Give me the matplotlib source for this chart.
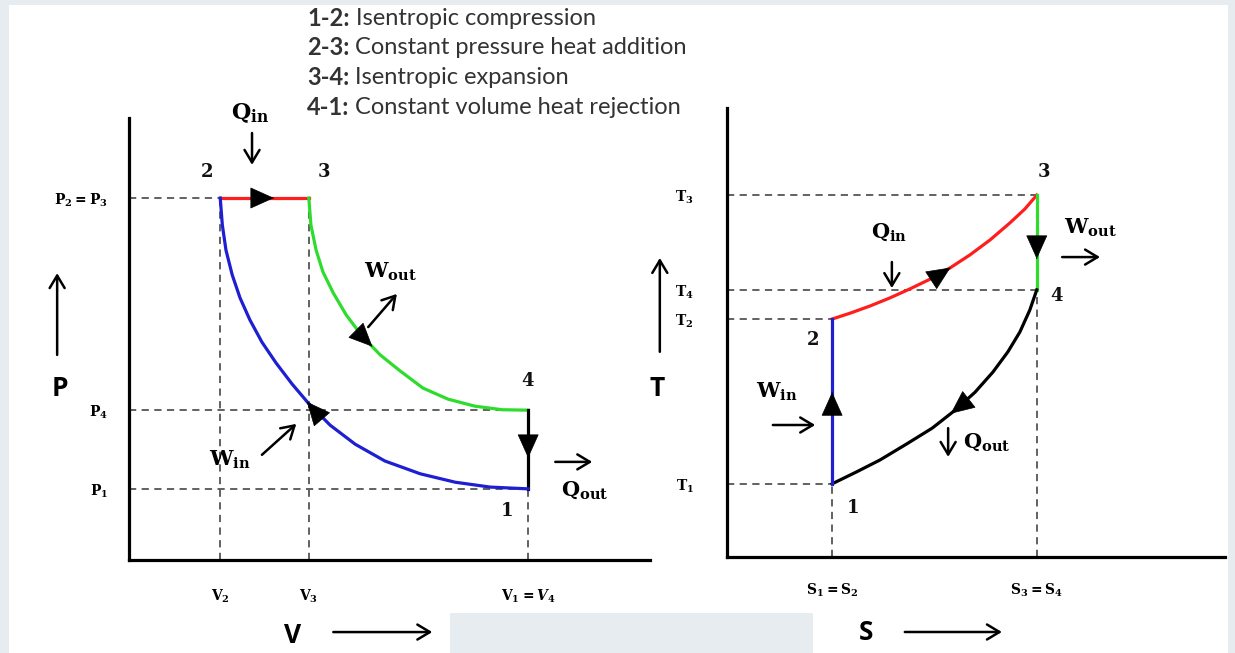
import matplotlib.pyplot as plt
from matplotlib.patches import Rectangle

# ---- P-V diagram values (arbitrary units) ----
V2, V3, V1 = 1.75, 3.45, 7.66
P2, P4, P1 = 8.19, 3.39, 1.61
# 1-2 isentropic compression (from 2 to 1)
comp_V = [1.75, 1.79, 1.86, 1.98, 2.13, 2.32, 2.55, 2.82, 3.13, 3.44, 3.86,
          4.34, 4.91, 5.59, 6.26, 6.93, 7.66]
comp_P = [8.19, 7.58, 7.01, 6.45, 5.93, 5.43, 4.93, 4.46, 3.98, 3.55, 3.05,
          2.62, 2.24, 1.95, 1.76, 1.65, 1.61]
# 3-4 isentropic expansion
exp_V = [3.45, 3.49, 3.59, 3.72, 3.92, 4.17, 4.47, 4.82, 5.20, 5.64, 6.12,
         6.64, 7.16, 7.66]
exp_P = [8.19, 7.58, 7.01, 6.52, 6.04, 5.54, 5.07, 4.64, 4.28, 3.89, 3.64,
         3.48, 3.40, 3.39]
# direction marks on the P-V cycle: x, y, dx, dy
pv_marks = [(2.76, 8.19, 1.0, 0.0), (4.66, 4.84, 0.52, -0.61),
            (3.42, 3.57, -0.40, 0.55), (7.66, 2.33, 0.0, -1.0)]

# ---- T-S diagram values ----
S1, S3 = 2.11, 6.22
T3, T4, T2, T1 = 8.06, 5.95, 5.30, 1.63
# 2-3 constant pressure heat addition
heat_S = [2.11, 2.47, 2.87, 3.27, 3.67, 4.08, 4.48, 4.88, 5.28, 5.68, 5.98, 6.22]
heat_T = [5.30, 5.43, 5.59, 5.77, 5.97, 6.19, 6.44, 6.73, 7.06, 7.44, 7.75, 8.06]
# 4-1 heat rejection
rej_S = [6.22, 6.08, 5.88, 5.64, 5.34, 4.98, 4.58, 4.12, 3.61, 3.07, 2.59, 2.11]
rej_T = [5.95, 5.50, 5.01, 4.57, 4.12, 3.67, 3.27, 2.87, 2.52, 2.16, 1.89, 1.63]
ts_marks = [(6.22, 6.66, 0.0, -1.0), (4.48, 6.44, 0.40, 0.29),
            (2.11, 3.65, 0.0, 1.0), (4.50, 3.20, -0.46, -0.40)]

steps = [("1-2:", " Isentropic compression"),
         ("2-3:", " Constant pressure heat addition"),
         ("3-4:", " Isentropic expansion"),
         ("4-1:", " Constant volume heat rejection")]

plt.rcParams['mathtext.fontset'] = 'custom'
plt.rcParams['mathtext.rm'] = 'DejaVu Serif:bold'
plt.rcParams['mathtext.it'] = 'DejaVu Serif:bold:italic'
plt.rcParams['mathtext.bf'] = 'DejaVu Serif:bold'

RED, GREEN, BLUE, DASH = '#ff1e1e', '#2edc2e', '#1f1fd2', '#555555'
LW = 2.3

fig = plt.figure(figsize=(12.35, 6.53), dpi=100, facecolor='#e7ecf1')
fig.patches.append(Rectangle((9 / 1235, 0), 1219 / 1235, 1 - 5 / 653,
                             transform=fig.transFigure, facecolor='white',
                             edgecolor='none', zorder=-2))
fig.patches.append(Rectangle((450 / 1235, 0), 363 / 1235, 40 / 653,
                             transform=fig.transFigure, facecolor='#e7ecf1',
                             edgecolor='none', zorder=5))

ax = fig.add_axes([0.1045, 0.1424, 0.4219, 0.6769])
ax2 = fig.add_axes([0.5887, 0.1470, 0.4032, 0.6876])

for a in (ax, ax2):
    a.set_xlim(0, 10)
    a.set_ylim(0, 10)
    a.patch.set_alpha(0)
    for s in ('top', 'right'):
        a.spines[s].set_visible(False)
    for s in ('left', 'bottom'):
        a.spines[s].set_linewidth(2.3)
    a.tick_params(length=0)

dash = dict(color=DASH, lw=1.3, ls=(0, (4, 3)), zorder=1)


def mark(a, x, y, dx, dy):
    a.annotate('', xy=(x + dx * 0.02, y + dy * 0.02), xytext=(x, y),
               arrowprops=dict(arrowstyle='-|>,head_length=1.0,head_width=0.45',
                               color='black', lw=0.5, shrinkA=0, shrinkB=0,
                               mutation_scale=16), zorder=4)


def pointer(a, x0, y0, x1, y1):
    a.annotate('', xy=(x1, y1), xytext=(x0, y0), annotation_clip=False,
               arrowprops=dict(arrowstyle='->,head_length=0.5,head_width=0.3',
                               color='black', lw=1.8, mutation_scale=18,
                               shrinkA=0, shrinkB=0))


serif = dict(fontfamily='DejaVu Serif', fontweight='bold', color='#111111')
big = dict(fontsize=19, fontweight='bold', fontfamily='Open Sans', clip_on=False,
           ha='center', va='center')

# ---- P-V ----
ax.plot([0, V2], [P2, P2], **dash)
ax.plot([0, V1], [P4, P4], **dash)
ax.plot([0, V1], [P1, P1], **dash)
ax.plot([V2, V2], [0, P2], **dash)
ax.plot([V3, V3], [0, P2], **dash)
ax.plot([V1, V1], [0, P1], **dash)
ax.plot([V2, V3], [P2, P2], color=RED, lw=LW, zorder=3)
ax.plot(exp_V, exp_P, color=GREEN, lw=LW, zorder=3)
ax.plot([V1, V1], [P4, P1], color='black', lw=LW, zorder=3)
ax.plot(comp_V, comp_P, color=BLUE, lw=LW, zorder=3)
for m in pv_marks:
    mark(ax, *m)

ax.set_xticks([V2, V3, V1], [r'$\mathrm{V_2}$', r'$\mathrm{V_3}$', r'$\mathrm{V_1 = }V_4$'])
ax.set_yticks([P1, P4, P2], [r'$\mathrm{P_1}$', r'$\mathrm{P_4}$', r'$\mathrm{P_2 = P_3}$'])
ax.tick_params(axis='x', pad=20, labelsize=10)
ax.tick_params(axis='y', pad=15, labelsize=10)

for txt, x, y in [('2', 1.50, 8.78), ('3', 3.74, 8.78), ('4', 7.64, 4.05), ('1', 7.26, 1.11)]:
    ax.text(x, y, txt, ha='center', va='center', fontsize=13, **serif)
ax.text(2.32, 10.11, r'$\mathrm{Q_{in}}$', ha='center', va='center', fontsize=16, clip_on=False)
pointer(ax, 2.36, 9.66, 2.36, 8.94)
ax.text(5.01, 6.52, r'$\mathrm{W_{out}}$', ha='center', va='center', fontsize=15)
pointer(ax, 4.59, 5.27, 5.14, 6.02)
ax.text(1.94, 2.26, r'$\mathrm{W_{in}}$', ha='center', va='center', fontsize=15)
pointer(ax, 2.55, 2.38, 3.21, 3.08)
ax.text(8.75, 1.58, r'$\mathrm{Q_{out}}$', ha='center', va='center', fontsize=15, clip_on=False)
pointer(ax, 8.18, 2.22, 8.89, 2.22)
ax.text(-1.32, 3.89, 'P', **big)
pointer(ax, -1.38, 4.64, -1.38, 6.49)
ax.text(3.13, -1.70, 'V', **big)
pointer(ax, 3.92, -1.63, 5.82, -1.63)

# ---- T-S ----
ax2.plot([0, S3], [T3, T3], **dash)
ax2.plot([0, S3], [T4, T4], **dash)
ax2.plot([0, S1], [T2, T2], **dash)
ax2.plot([0, S1], [T1, T1], **dash)
ax2.plot([S1, S1], [0, T1], **dash)
ax2.plot([S3, S3], [0, T4], **dash)
ax2.plot(heat_S, heat_T, color=RED, lw=LW, zorder=3)
ax2.plot([S3, S3], [T3, T4], color=GREEN, lw=LW, zorder=3)
ax2.plot(rej_S, rej_T, color='black', lw=LW, zorder=3)
ax2.plot([S1, S1], [T1, T2], color=BLUE, lw=LW, zorder=3)
for m in ts_marks:
    mark(ax2, *m)

ax2.set_xticks([S1, S3], [r'$\mathrm{S_1 = S_2}$', r'$\mathrm{S_3 = S_4}$'])
ax2.set_yticks([T1, T2, T4, T3], [r'$\mathrm{T_1}$', r'$\mathrm{T_2}$', r'$\mathrm{T_4}$', r'$\mathrm{T_3}$'])
ax2.tick_params(axis='x', pad=18, labelsize=10)
ax2.tick_params(axis='y', pad=24, labelsize=10)

for txt, x, y in [('3', 6.37, 8.57), ('4', 6.61, 5.81), ('2', 1.73, 4.83), ('1', 2.53, 1.09)]:
    ax2.text(x, y, txt, ha='center', va='center', fontsize=13, **serif)
ax2.text(3.25, 7.24, r'$\mathrm{Q_{in}}$', ha='center', va='center', fontsize=15)
pointer(ax2, 3.31, 6.57, 3.31, 5.99)
ax2.text(7.29, 7.33, r'$\mathrm{W_{out}}$', ha='center', va='center', fontsize=15)
pointer(ax2, 6.73, 6.68, 7.49, 6.68)
ax2.text(1.00, 3.67, r'$\mathrm{W_{in}}$', ha='center', va='center', fontsize=15)
pointer(ax2, 0.92, 2.94, 1.77, 2.94)
ax2.text(5.22, 2.56, r'$\mathrm{Q_{out}}$', ha='center', va='center', fontsize=15)
pointer(ax2, 4.44, 2.87, 4.44, 2.23)
ax2.text(-1.41, 3.76, 'T', **big)
pointer(ax2, -1.35, 4.57, -1.35, 6.66)
ax2.text(2.79, -1.69, 'S', **big)
pointer(ax2, 3.57, -1.67, 5.52, -1.67)

# ---- process list at the top ----
for i, (num, desc) in enumerate(steps):
    t = fig.text(0.2486, 0.9724 - i * 0.0459, num, fontsize=17, fontweight='bold',
                 fontfamily='Lato', color='#333333', va='center')
    ax.annotate(desc, xy=(1, 0.5), xycoords=t, va='center', fontsize=17,
                fontfamily='Lato', color='#333333', annotation_clip=False)

fig.savefig('out.png', dpi=100, facecolor=fig.get_facecolor())
